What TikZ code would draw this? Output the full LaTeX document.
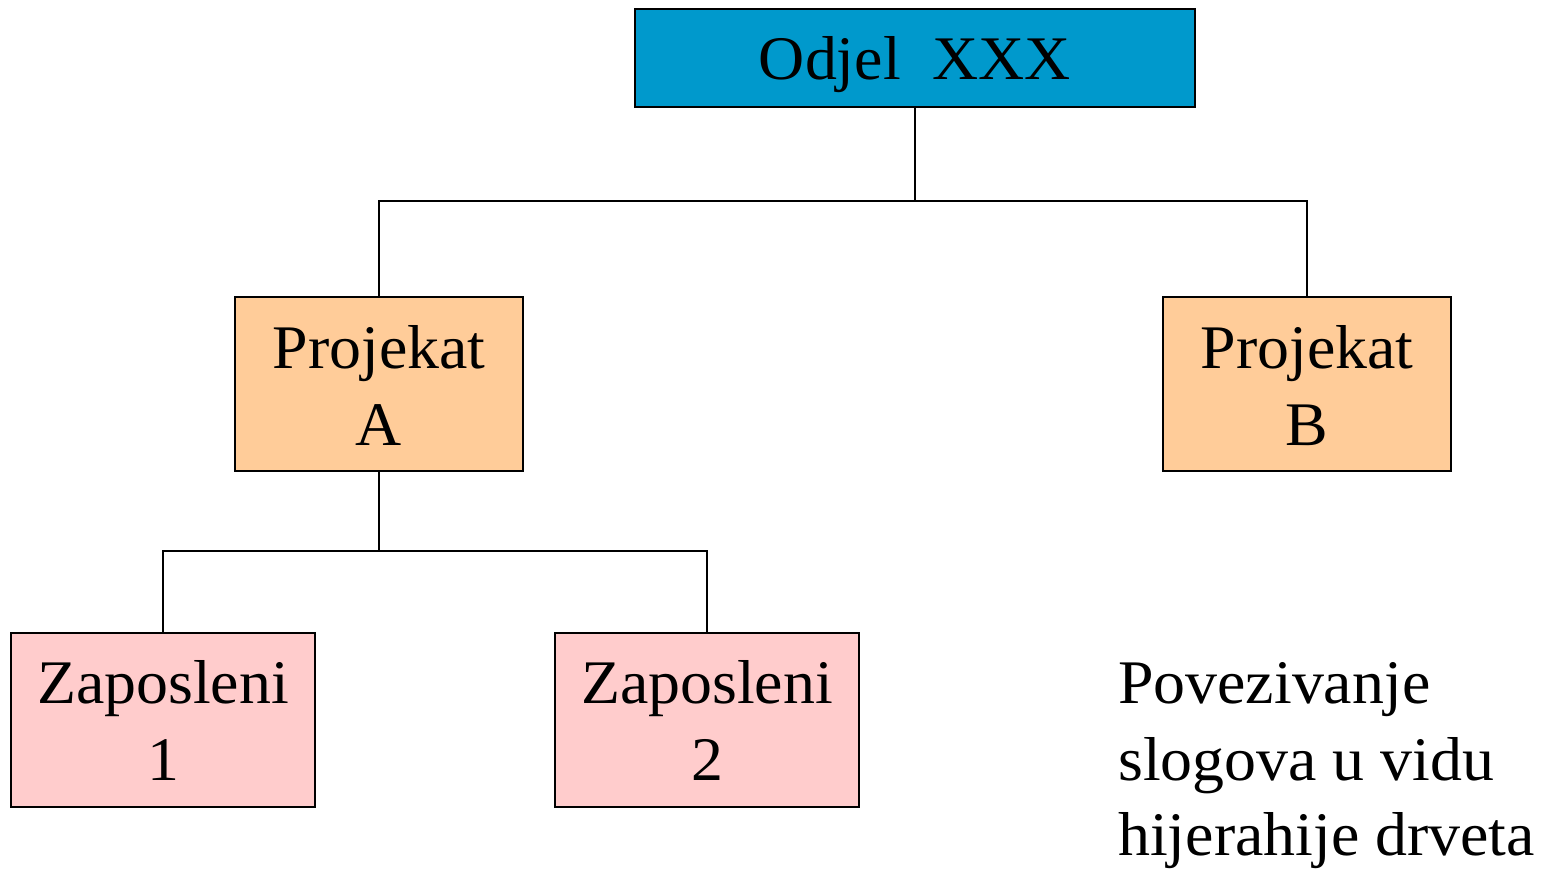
\documentclass[tikz,border=0pt]{standalone}
\usepackage{fontspec}
\setmainfont{Liberation Serif}[FakeStretch=1.03]
\definecolor{deptblue}{HTML}{0099CC}
\definecolor{projorange}{HTML}{FFCC99}
\definecolor{emppink}{HTML}{FFCCCC}
\begin{document}
\begin{tikzpicture}[x=1pt,y=-1pt,
  box/.style={draw=black,line width=2pt,inner sep=0pt,outer sep=0pt},
  lbl/.style={anchor=base,inner sep=0pt,font=\fontsize{62}{76}\selectfont},
  note/.style={anchor=base west,inner sep=0pt,font=\fontsize{62}{76}\selectfont},
  link/.style={draw=black,line width=2pt}]
\useasboundingbox (0,0) rectangle (1542,872);
% boxes
\node[box,fill=deptblue,minimum width=560pt,minimum height=98pt] (odjel) at (915,58) {};
\node[box,fill=projorange,minimum width=288pt,minimum height=174pt] (pa) at (379,384) {};
\node[box,fill=projorange,minimum width=288pt,minimum height=174pt] (pb) at (1307,384) {};
\node[box,fill=emppink,minimum width=304pt,minimum height=174pt] (z1) at (163,720) {};
\node[box,fill=emppink,minimum width=304pt,minimum height=174pt] (z2) at (707,720) {};
% labels
\node[lbl] (odjelT) at (915,80) {Odjel\ \ XXX};
\node[lbl] (paT1) at (379,368) {Projekat};
\node[lbl] (paT2) at (379,445) {A};
\node[lbl] (pbT1) at (1307,368) {Projekat};
\node[lbl] (pbT2) at (1307,445) {B};
\node[lbl] (z1T1) at (163,703) {Zaposleni};
\node[lbl] (z1T2) at (163,780) {1};
\node[lbl] (z2T1) at (707,703) {Zaposleni};
\node[lbl] (z2T2) at (707,780) {2};
% connectors
\draw[link] (odjel.south) -- ++(0,94) -| (pa.north);
\draw[link] (odjel.south) -- ++(0,94) -| (pb.north);
\draw[link] (pa.south) -- ++(0,80) -| (z1.north);
\draw[link] (pa.south) -- ++(0,80) -| (z2.north);
% caption
\node[note] (n1) at (1118,703) {Povezivanje};
\node[note] (n2) at (1118,780) {slogova u vidu};
\node[note] (n3) at (1118,855) {hijerahije drveta};
\end{tikzpicture}
\end{document}
